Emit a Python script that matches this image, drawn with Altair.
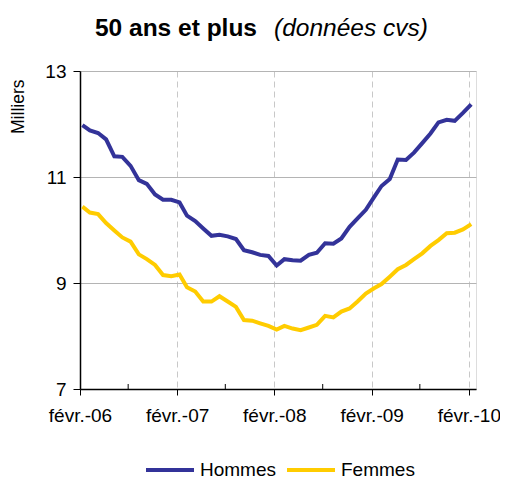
import altair as alt
import pandas as pd

# ---- data (milliers, données CVS) ----
start_month = "2006-02-01"
n_months = 49
series_names = ["Hommes", "Femmes"]
series_colors = ["#333399", "#FFCC00"]

hommes = [11.98, 11.88, 11.83, 11.71, 11.39, 11.38, 11.21, 10.94, 10.87, 10.67, 10.57, 10.57,
          10.52, 10.27, 10.17, 10.03, 9.89, 9.91, 9.88, 9.83, 9.62, 9.58, 9.53, 9.51,
          9.33, 9.45, 9.43, 9.42, 9.53, 9.57, 9.75, 9.74, 9.84, 10.06, 10.22, 10.38,
          10.62, 10.83, 10.96, 11.33, 11.32, 11.46, 11.64, 11.82, 12.03, 12.08, 12.06, 12.21,
          12.37]
femmes = [10.44, 10.33, 10.30, 10.13, 9.99, 9.86, 9.78, 9.54, 9.45, 9.34, 9.15, 9.13,
          9.16, 8.92, 8.84, 8.65, 8.65, 8.75, 8.65, 8.55, 8.30, 8.29, 8.24, 8.19,
          8.12, 8.19, 8.14, 8.11, 8.16, 8.21, 8.38, 8.35, 8.46, 8.52, 8.65, 8.80,
          8.90, 8.98, 9.12, 9.26, 9.34, 9.45, 9.56, 9.70, 9.81, 9.94, 9.95, 10.01,
          10.11]

tick_dates = ["2006-02-01", "2007-02-01", "2008-02-01", "2009-02-01", "2010-02-01"]
minor_tick_dates = ["2006-08-01", "2007-08-01", "2008-08-01", "2009-08-01"]
y_ticks = [7, 9, 11, 13]
title_parts = ["50 ans et plus", "(données cvs)"]

dates = (pd.date_range(start_month, periods=n_months, freq="MS") + pd.Timedelta(days=9)).strftime("%Y-%m-%d")
df = pd.concat([
    pd.DataFrame({"date": dates, "value": hommes, "serie": series_names[0]}),
    pd.DataFrame({"date": dates, "value": femmes, "serie": series_names[1]}),
])

FONT = "Liberation Sans"
W, H = 396, 318

x_scale = alt.Scale(type="utc",
                    domain=[alt.DateTime(year=2006, month=2, date=1, utc=True),
                            alt.DateTime(year=2010, month=2, date=28, utc=True)])

x_axis = alt.Axis(values=[alt.DateTime(year=int(d[:4]), month=2, date=1, utc=True) for d in tick_dates],
                  labelExpr="'févr.-' + utcFormat(datum.value, '%y')",
                  title=None, grid=True, gridDash=[6, 4], gridColor="#c8c8c8", gridWidth=1,
                  tickSize=6, tickColor="black", domainColor="black", domainWidth=1.5,
                  labelFontSize=19, labelFont=FONT, labelColor="black", labelPadding=11,
                  labelFlush=False, labelOverlap=False)

lines = alt.Chart(df).mark_line(strokeWidth=4).encode(
    x=alt.X("date:T", scale=x_scale, axis=x_axis),
    y=alt.Y("value:Q", scale=alt.Scale(domain=[7, 13], nice=False, zero=False),
            axis=alt.Axis(values=y_ticks, title="Milliers", titleFont=FONT, titleFontSize=17.5,
                          titleFontWeight="normal", titleColor="black", titleAngle=-90,
                          titleX=-53, titleY=8, titleAlign="right", titleBaseline="bottom",
                          grid=True, gridColor="#b4b4b4", gridWidth=1,
                          tickSize=7, tickColor="black", domainColor="black", domainWidth=1.5,
                          labelFontSize=19, labelFont=FONT, labelColor="black", labelPadding=7)),
    color=alt.Color("serie:N", scale=alt.Scale(domain=series_names, range=series_colors),
                    legend=alt.Legend(title=None, orient="none", legendX=76, legendY=385,
                                      direction="horizontal", symbolType="M-2,0H2",
                                      symbolSize=576, symbolStrokeWidth=4,
                                      labelFont=FONT, labelFontSize=19, labelColor="black",
                                      labelOffset=16, columnPadding=2)),
)

minor = alt.Chart(pd.DataFrame({"date": minor_tick_dates})).mark_rule(color="black", strokeWidth=1).encode(
    x=alt.X("date:T", scale=x_scale),
    y=alt.value(H), y2=alt.value(H - 5),
)

t1 = alt.Chart(pd.DataFrame({"t": [title_parts[0]]})).mark_text(
    font=FONT, fontSize=24.5, fontWeight="bold", align="right", baseline="alphabetic", color="black"
).encode(x=alt.value(177), y=alt.value(-35), text="t:N")

t2 = alt.Chart(pd.DataFrame({"t": [title_parts[1]]})).mark_text(
    font=FONT, fontSize=24.5, fontStyle="italic", align="left", baseline="alphabetic", color="black"
).encode(x=alt.value(194), y=alt.value(-35), text="t:N")

chart = alt.layer(lines, minor, t1, t2).properties(
    width=W, height=H,
    autosize=alt.AutoSizeParams(type="none"),
    padding={"left": 72, "top": 63, "right": 24, "bottom": 91},
).configure_view(stroke="#8c8c8c", strokeWidth=2).configure(background="white")

chart.save("out.html", embed_options={"renderer": "svg", "actions": False})
